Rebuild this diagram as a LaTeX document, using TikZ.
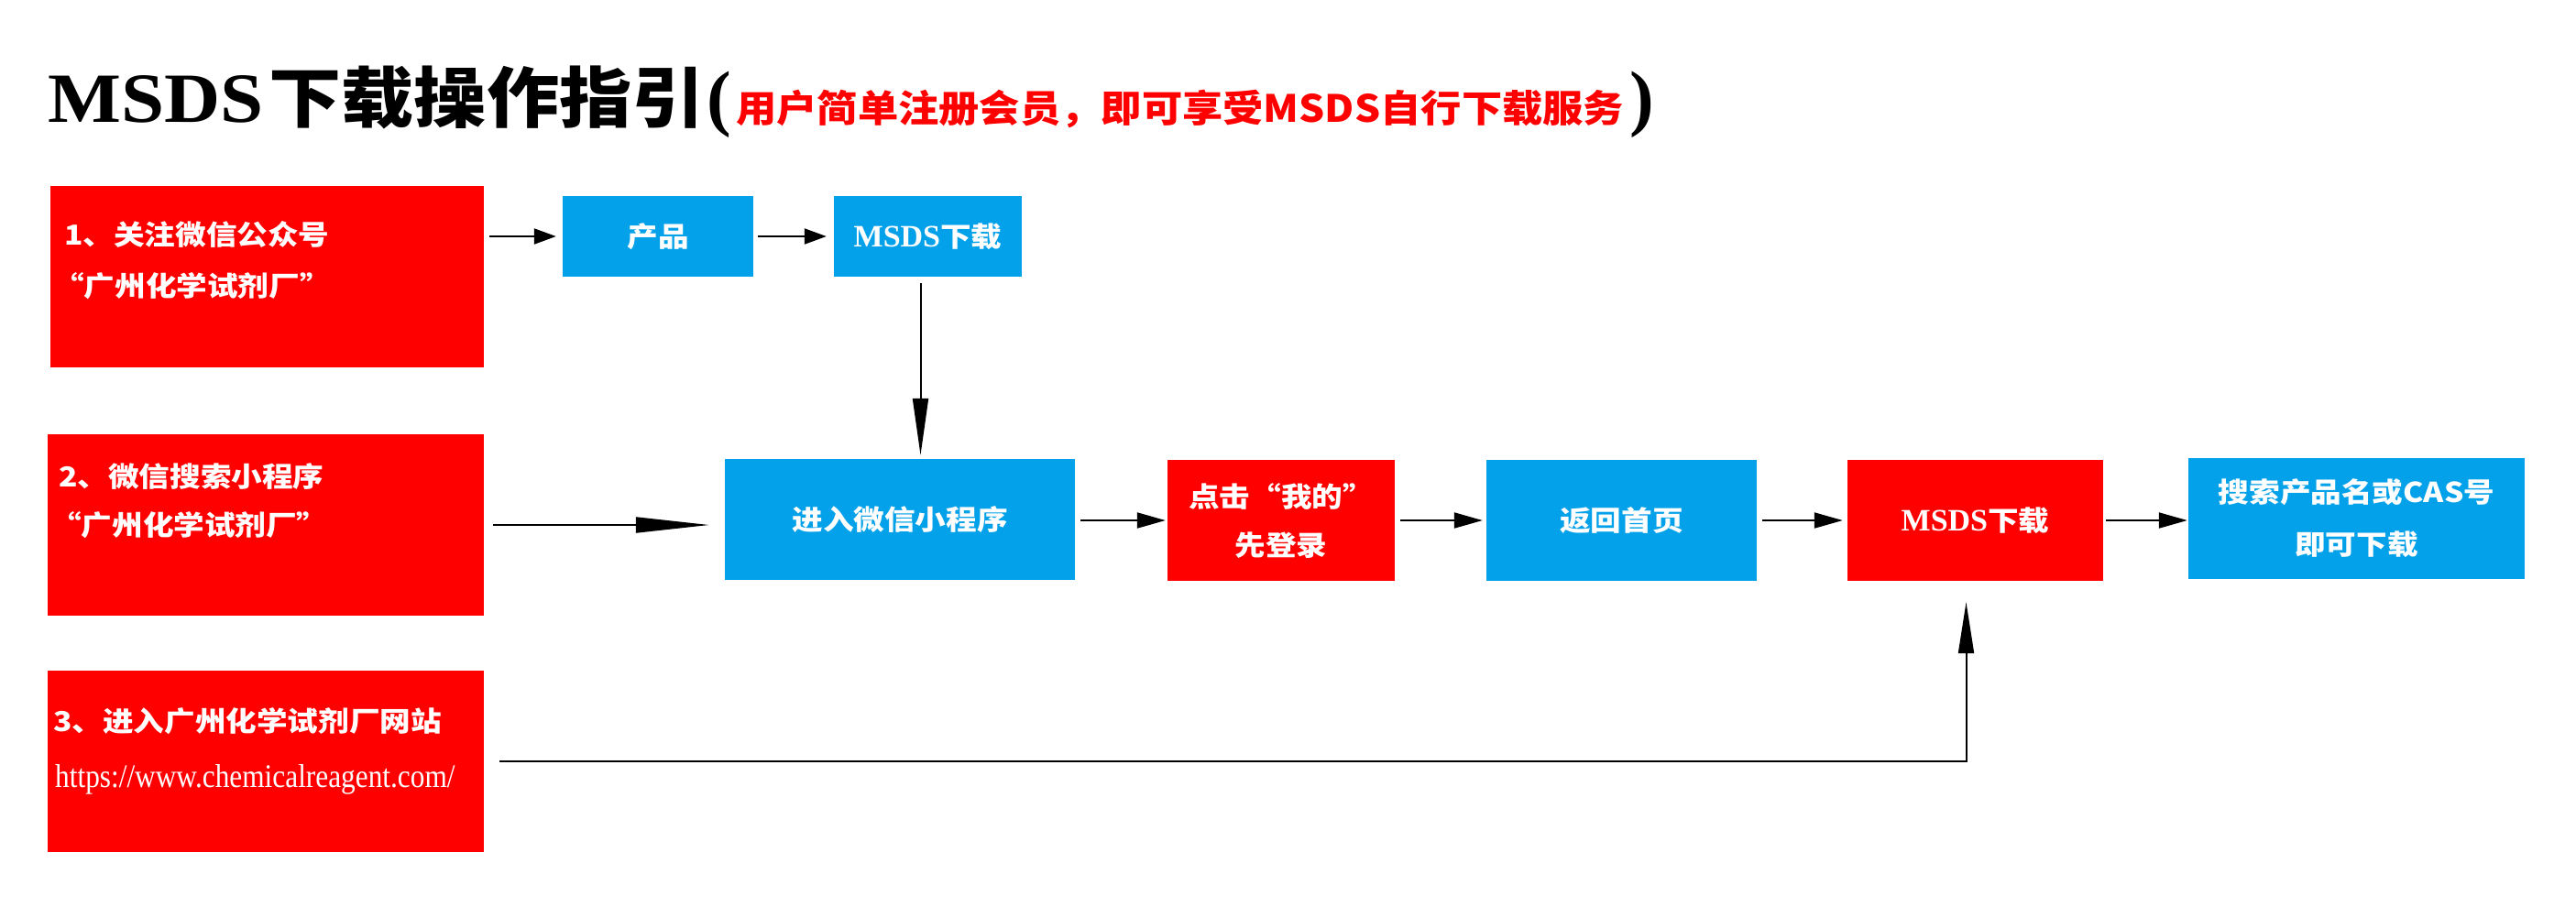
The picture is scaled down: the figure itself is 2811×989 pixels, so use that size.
\documentclass[tikz,border=0pt]{standalone}
\usepackage{fontspec}
\usetikzlibrary{arrows.meta}
\setmainfont{Liberation Serif}
\newfontfamily\cjkcaja{Noto Sans CJK SC}[FakeStretch=1.12]
\newfontfamily\cjktitulo{Noto Sans CJK SC}[FakeStretch=1.1]
\newfontfamily\cjkrojo{Noto Sans CJK SC}[FakeStretch=1.08]
\newfontfamily\latitulo{Liberation Serif}[FakeStretch=1.1]
\newfontfamily\urlfuente{Liberation Serif}[FakeStretch=0.87]
\definecolor{rojo}{RGB}{255,0,0}
\definecolor{azulc}{RGB}{3,161,233}
\newcommand{\lat}[1]{{\rmfamily\bfseries\fontsize{34}{36}\selectfont #1}}

\tikzset{
  caja/.style={inner sep=0, text=white, align=center, font=\cjkcaja\bfseries\fontsize{30}{53}\selectfont},
  cajaroja/.style={caja, fill=rojo},
  cajaazul/.style={caja, fill=azulc},
  linea/.style={text=white, inner sep=0, anchor=west, font=\cjkcaja\bfseries\fontsize{30}{36}\selectfont},
  flecha/.style={line width=2pt, -{Triangle[length=#1, width=17pt]}},
  flecha/.default=31pt
}

\begin{document}
\begin{tikzpicture}[x=1pt, y=-1pt]
  \useasboundingbox (0,0) rectangle (2811,989);

  % Título
  \node[anchor=base west, inner sep=0] (titulo) at (52,133)
    {{\latitulo\bfseries\fontsize{77}{80}\selectfont MSDS}\hspace{6pt}{\cjktitulo\bfseries\fontsize{72}{80}\selectfont 下载操作指引}};
  \node[anchor=base west, inner sep=0, font=\bfseries\fontsize{80}{80}\selectfont] (parA) at (771,133) {(};
  \node[anchor=base west, inner sep=0, text=rojo, font=\cjkrojo\bfseries\fontsize{41}{44}\selectfont] (subtitulo) at (803,133)
    {用户简单注册会员，即可享受MSDS自行下载服务};
  \node[anchor=base west, inner sep=0, font=\bfseries\fontsize{80}{80}\selectfont] (parB) at ([xshift=6pt]subtitulo.base east) {)};

  % Cajas rojas de la izquierda
  \node[cajaroja, minimum width=473, minimum height=198] (paso1) at (291.5,302) {};
  \node[cajaroja, minimum width=476, minimum height=198] (paso2) at (290,573) {};
  \node[cajaroja, minimum width=476, minimum height=198] (paso3) at (290,831) {};

  \node[linea] (l1a) at (70,256) {1、关注微信公众号};
  \node[linea] (l1b) at (58,312) {“广州化学试剂厂”};
  \node[linea] (l2a) at (64,520) {2、微信搜索小程序};
  \node[linea] (l2b) at (55,573) {“广州化学试剂厂”};
  \node[linea] (l3a) at (58,787) {3、进入广州化学试剂厂网站};
  \node[anchor=base west, inner sep=0, text=white, font=\urlfuente\fontsize{36}{40}\selectfont] (l3b) at (60,859)
    {https://www.chemicalreagent.com/};

  % Fila de arriba
  \node[cajaazul, minimum width=208, minimum height=88] (prod) at (718,258) {产品};
  \node[cajaazul, minimum width=205, minimum height=88] (msds1) at (1012.5,258) {\lat{MSDS}下载};

  % Fila del medio
  \node[cajaazul, minimum width=382, minimum height=132] (entrar) at (982,567) {进入微信小程序};
  \node[cajaroja, minimum width=248, minimum height=132] (clic) at (1398,568) {点击“我的”\\先登录};
  \node[cajaazul, minimum width=295, minimum height=132] (volver) at (1769.5,568) {返回首页};
  \node[cajaroja, minimum width=279, minimum height=132] (msds2) at (2155.5,568) {\lat{MSDS}下载};
  \node[cajaazul, minimum width=367, minimum height=132, font=\cjkcaja\bfseries\fontsize{30}{57}\selectfont] (buscar) at (2571.5,566)
    {搜索产品名或CAS号\\即可下载};

  % Flechas
  \draw[flecha=24pt, shorten <=6pt, shorten >=7pt] (paso1.east |- prod.west) -- (prod.west);
  \draw[flecha=24pt, shorten <=5pt, shorten >=8pt] (prod.east) -- (msds1.west);
  \draw[flecha=62pt, shorten <=7pt, shorten >=4pt] ([xshift=-8pt]msds1.south) -- ([xshift=-8pt]msds1.south |- entrar.north);
  \draw[flecha=80pt, shorten <=10pt, shorten >=17pt] (paso2.east) -- (paso2.east -| entrar.west);
  \draw[flecha, shorten <=6pt, shorten >=2pt] (entrar.east |- clic.west) -- (clic.west);
  \draw[flecha, shorten <=6pt, shorten >=4pt] (clic.east) -- (volver.west);
  \draw[flecha, shorten <=6pt, shorten >=5pt] (volver.east) -- (msds2.west);
  \draw[flecha, shorten <=3pt, shorten >=1pt] (msds2.east) -- (msds2.east -| buscar.west);
  % Desde la web
  \draw[flecha=56pt, shorten <=17pt, shorten >=23pt] (paso3.east) -| ([xshift=-10pt]msds2.south);
\end{tikzpicture}
\end{document}
